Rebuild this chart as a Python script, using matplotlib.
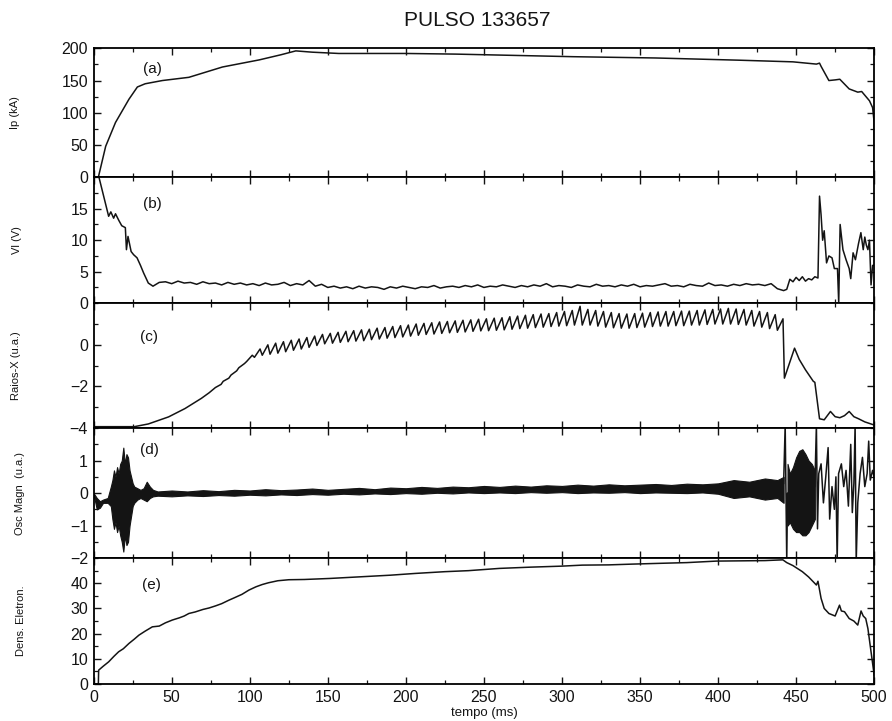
"""
PULSO 133657 - five stacked diagnostics traces vs time.
"""

import numpy as np
import matplotlib as mpl
import matplotlib.pyplot as plt
from matplotlib.ticker import MultipleLocator

# ── data ─────────────────────────────────────────────────────────────────────
# (a) plasma current Ip (kA)
A_T = [0, 3, 7.7, 14, 22.6, 28, 33, 44, 61, 82.5, 106, 120, 129.5, 140, 157,
       200, 232, 307, 360, 413, 448, 463, 465, 466, 471, 475, 478, 484, 489.5,
       492, 497, 499, 500, 500]
A_V = [0, 0, 48, 85, 121, 140, 145, 150, 155, 171, 182, 190, 196, 194, 192,
       192, 191, 187, 185, 181.6, 179, 175.5, 177, 172, 150, 151, 152, 137, 132,
       133, 118.6, 108, 85, 0]

# (b) loop voltage Vl (V)
B_HEAD_T = [2.5, 3, 6.4, 9.6, 11, 12.8, 14, 16, 18, 20.3, 21, 22, 24, 25.6,
            27.8, 30, 32, 35, 38, 42]
B_HEAD_V = [21, 20.4, 17, 13.8, 14.5, 13.5, 14.2, 13.2, 12.3, 12, 8.5, 10.6,
            8.2, 7.7, 7.2, 6.0, 4.8, 3.2, 2.7, 3.3]
B_BASE_T = list(range(46, 443, 4))
B_BASE_V = [3.4, 3.1, 3.5, 3.2, 3.3, 3.0, 3.4, 3.1, 3.2, 2.9, 3.3, 3.0, 3.2, 2.9,
            3.1, 2.8, 3.2, 2.9, 3.0, 3.3, 2.8, 3.1, 2.9, 3.6, 2.7, 3.0, 2.5, 2.7, 2.4,
            2.6, 2.3, 2.7, 2.4, 2.6, 2.5, 2.2, 2.6, 2.4, 2.7, 2.5, 2.3, 2.6, 2.5, 2.8,
            2.4, 2.6, 2.7, 2.5, 2.8,
            2.6, 2.9, 2.5, 2.7, 2.6, 2.9, 2.7, 2.5, 2.8, 2.6, 2.9, 2.7, 3.1, 2.6, 2.8,
            2.7, 2.5, 2.9, 2.7, 2.6, 3.0, 2.7, 2.8, 2.6, 2.9,
            2.7, 3.0, 2.6, 2.8, 2.7, 2.9, 3.1, 2.7, 2.8, 2.6, 3.0, 2.8, 2.7, 3.2, 2.8,
            2.9, 2.7, 3.0, 2.8, 3.1, 2.9, 3.0, 2.8, 3.1, 2.3, 2.0]
B_TAIL_T = [444, 446, 448, 450, 452, 454, 456, 458, 460, 462, 464, 465, 466,
            467, 468, 469.5, 471, 473, 474.5, 476.5, 477.3, 478.2, 480, 482, 484,
            485, 486.5, 488, 490, 491.5, 493, 494, 495, 496, 497, 498, 499, 500]
B_TAIL_V = [2.2, 3.8, 3.4, 4.1, 3.6, 4.2, 3.5, 3.9, 3.7, 4.2, 4.0, 17, 14, 10,
            11.5, 6.4, 7.5, 7.2, 5.5, 5.5, 0, 12.5, 8.5, 6.9, 5.5, 3.9, 8, 6.9,
            9.5, 11.2, 8.5, 10.5, 9.2, 8.5, 10, 2.9, 6, 6]

# (c) soft X-rays (u.a.) : ramp, sawtooth teeth, disruption tail
C_RAMP_T = [0, 26, 35, 48, 58.5, 69, 74]
C_RAMP_V = [-3.93, -3.93, -3.8, -3.46, -3.06, -2.57, -2.3]
C_TOOTH_T = list(range(78, 439, 5))
C_TOOTH_LO = [-2.05, -1.75, -1.45, -1.1, -0.8, -0.6, -0.5, -0.45, -0.4, -0.33,
              -0.26, -0.2, -0.12, -0.03, 0.05, 0.08, 0.12, 0.15, 0.18, 0.2,
              0.25, 0.28, 0.32, 0.35, 0.38, 0.42, 0.46, 0.5, 0.52, 0.55,
              0.58, 0.6, 0.62, 0.65, 0.67, 0.68, 0.7, 0.72, 0.75, 0.78,
              0.8, 0.83, 0.85, 0.88, 0.9, 0.92, 0.95, 0.95, 0.95, 0.9,
              0.85, 0.82, 0.8, 0.8, 0.83, 0.85, 0.88, 0.9, 0.9, 0.92,
              0.92, 0.95, 0.95, 0.98, 1.0, 1.0, 1.0, 0.98, 0.95, 0.9,
              0.85, 0.78, 0.7]
C_TOOTH_HI = [-1.9, -1.6, -1.25, -0.9, -0.5, -0.2, 0.0, 0.08, 0.15, 0.22,
              0.28, 0.35, 0.42, 0.5, 0.55, 0.6, 0.65, 0.68, 0.72, 0.75,
              0.8, 0.83, 0.88, 0.92, 0.95, 1.0, 1.03, 1.06, 1.1, 1.12,
              1.15, 1.18, 1.2, 1.23, 1.25, 1.28, 1.3, 1.35, 1.38, 1.42,
              1.45, 1.48, 1.5, 1.55, 1.6, 1.65, 1.85, 1.7, 1.65, 1.6,
              1.55, 1.5, 1.48, 1.5, 1.52, 1.55, 1.58, 1.6, 1.6, 1.62,
              1.62, 1.65, 1.68, 1.7, 1.72, 1.75, 1.72, 1.7, 1.65, 1.6,
              1.55, 1.45, 1.25]
C_TAIL_T = [442.5, 449, 452, 456, 461, 462, 465, 468, 472, 475, 478, 481, 484,
            487, 490, 494, 498, 500]
C_TAIL_V = [-1.6, -0.16, -0.7, -1.2, -1.75, -1.8, -3.55, -3.6, -3.2, -3.45,
            -3.5, -3.4, -3.2, -3.45, -3.55, -3.7, -3.8, -3.85]

# (d) magnetic oscillations (u.a.) : envelope of the dense band + late trace
D_T = [0, 2, 4, 6, 9, 11, 12, 13, 14, 15, 16, 17, 18, 19, 20, 21, 22, 23, 24,
       25, 26, 28, 30, 32, 34, 36, 38,
       41, 50, 60, 70, 80, 90, 100, 110, 120, 130, 140, 150, 160, 170, 180, 190,
       200, 210, 220, 230, 240, 250, 260, 270, 280, 290, 300, 310, 320, 330,
       340, 350, 360, 370, 380, 390, 400, 410, 420, 430, 438, 442]
D_HI = [0.0, -0.15, -0.25, -0.2, -0.15, 0.2, 0.4, 0.7, 0.5, 0.8, 0.6, 0.9, 1.0,
        1.4, 0.9, 1.2, 1.1, 0.7, 0.5, 0.3, 0.2, 0.15, 0.1, 0.15, 0.35, 0.2, 0.1,
        0.05, 0.08, 0.05, 0.09, 0.06, 0.1, 0.08, 0.12, 0.09, 0.11,
        0.14, 0.1, 0.13, 0.16, 0.12, 0.17, 0.15, 0.19, 0.16, 0.2,
        0.18, 0.22, 0.19, 0.23, 0.2, 0.24, 0.22, 0.26, 0.23, 0.27,
        0.24, 0.26, 0.28, 0.25, 0.29, 0.27, 0.3, 0.4, 0.35, 0.45, 0.4, 0.5]
D_LO = [-0.05, -0.5, -0.45, -0.3, -0.3, -0.4, -0.8, -1.1, -0.9, -1.2, -1.0,
        -1.3, -1.5, -1.8, -1.3, -1.6, -1.5, -1.0, -0.7, -0.4, -0.3, -0.2, -0.15,
        -0.2, -0.25, -0.15, -0.1,
        -0.08, -0.1, -0.07, -0.09, -0.06, -0.08, -0.05, -0.07, -0.04, -0.06,
        -0.03, -0.05, -0.02, -0.04, -0.01, -0.03, 0.0, -0.02, 0.01, -0.01,
        0.02, 0.0, 0.02, 0.0, 0.03, 0.01, 0.03, 0.0, 0.02, 0.01,
        0.03, 0.0, 0.02, 0.01, 0.0, 0.02, -0.02, -0.15, -0.1, -0.2, -0.15, -0.3]
D_BURST_T = [444.5, 446, 448, 450, 452, 454, 456, 458, 460, 462]
D_BURST_HI = [0.9, 0.6, 0.8, 1.1, 1.3, 1.35, 1.2, 1.0, 0.9, 0.7]
D_BURST_LO = [-1.0, -0.9, -1.1, -1.2, -1.2, -1.3, -1.3, -1.2, -1.0, -0.8]
D_LATE_T = [442, 443, 444, 444.5, 462, 463, 463.7, 464.5, 466, 467.5, 469,
            470.5, 471.5, 473, 474.5, 475.5, 476.3, 477.2, 479, 480.5, 482,
            483.5, 485, 486, 487, 487.8, 488.5, 489.5, 491, 492.5, 494, 495.5,
            496.5, 497.5, 499, 500]
D_LATE_V = [0.3, 2.1, -2.1, 0.0, 0.2, 2.1, -1.1, 0.6, 0.9, -0.3, 0.5, 1.4,
            -0.8, 0.2, -0.5, 0.5, -2.1, 0.6, 0.9, 0.2, 0.7, -0.4, 1.5, -0.6,
            0.3, 2.1, -2.1, -0.3, 0.6, 1.1, 0.2, 0.6, 1.6, 0.4, 0.7, 0.5]

# (e) electron density
E_T = [0, 3, 3.2, 6, 9.6, 13, 16, 19, 22.6, 26, 29, 33, 37.6, 42, 46, 50.4, 55,
       58, 61, 65, 70, 74, 78, 82, 86.7, 90, 95, 99.5, 104, 108, 112, 118, 125,
       135, 151, 160, 172, 190, 206, 225, 240, 260, 280, 300, 313, 330, 345, 362,
       380, 399, 415, 430, 441.5, 444, 448, 454, 458, 463, 464, 466, 468, 471,
       475, 477.8, 479, 481, 484, 487, 489.5, 491.6, 493, 494.6, 496, 498, 500]
E_V = [0, 0, 5.5, 7.0, 8.8, 11.0, 12.8, 14.0, 16.1, 17.8, 19.4, 21.0, 22.7,
       23.0, 24.3, 25.4, 26.3, 27.0, 28.0, 28.6, 29.6, 30.2, 31.0, 31.9, 33.3,
       34.2, 35.6, 37.3, 38.6, 39.5, 40.2, 41.0, 41.4, 41.5, 41.9, 42.2, 42.6,
       43.2, 43.9, 44.6, 45.0, 45.9, 46.4, 46.8, 47.2, 47.3, 47.6, 47.9, 48.2,
       48.8, 48.9, 49.0, 49.3, 48.2, 47.0, 44.6, 42.5, 39.3, 40.8, 34.0, 30.0,
       28.0, 27.0, 31.3, 29.0, 28.7, 26.0, 25.0, 23.4, 29.0, 27.0, 26.0, 22.0,
       12.8, 3.6]

# ── style ────────────────────────────────────────────────────────────────────
mpl.rcParams.update({
    "font.family": ["Liberation Sans", "DejaVu Sans"],
    "font.size": 11,
    "xtick.direction": "in",
    "ytick.direction": "in",
    "xtick.top": True,
    "ytick.right": True,
    "axes.linewidth": 1.3,
})
INK = "#141414"
LW = 1.1

fig = plt.figure(figsize=(8.92, 7.21), dpi=100)
gs = fig.add_gridspec(5, 1, left=0.105, right=0.98, top=0.933, bottom=0.0513,
                      hspace=0, height_ratios=[129, 126, 125, 130, 126])
axes = [fig.add_subplot(gs[i]) for i in range(5)]
ax_a, ax_b, ax_c, ax_d, ax_e = axes

# (a)
ax_a.plot(A_T, A_V, color=INK, lw=LW)
# (b)
ax_b.plot(B_HEAD_T + B_BASE_T + B_TAIL_T, B_HEAD_V + B_BASE_V + B_TAIL_V,
          color=INK, lw=LW)
# (c) build the sawtooth path from the tooth table
c_t = list(C_RAMP_T)
c_v = list(C_RAMP_V)
for t0, lo, hi in zip(C_TOOTH_T, C_TOOTH_LO, C_TOOTH_HI):
    c_t += [t0, t0 + 3.6]
    c_v += [lo, hi]
ax_c.plot(c_t + C_TAIL_T, c_v + C_TAIL_V, color=INK, lw=LW)
# (d)
ax_d.fill_between(D_T, D_LO, D_HI, color=INK, lw=0.8, edgecolor=INK)
ax_d.fill_between(D_BURST_T, D_BURST_LO, D_BURST_HI, color=INK, lw=0.8,
                  edgecolor=INK)
ax_d.plot(D_LATE_T, D_LATE_V, color=INK, lw=LW)
# (e)
ax_e.plot(E_T, E_V, color=INK, lw=LW)

# ── axes ─────────────────────────────────────────────────────────────────────
limits = [(0, 200), (0, 20), (-4, 2), (-2, 2), (0, 50)]
minors = [25, 2.5, 1, 0.5, 5]
tick_lists = [[0, 50, 100, 150, 200], [0, 5, 10, 15], [-4, -2, 0],
              [-2, -1, 0, 1], [0, 10, 20, 30, 40]]
ylabels = ["Ip (kA)", "Vl (V)", "Raios-X (u.a.)", "Osc Magn  (u.a.)",
           "Dens. Eletron."]
tags = ["(a)", "(b)", "(c)", "(d)", "(e)"]
tag_pos = [(0.063, 0.84), (0.063, 0.79), (0.06, 0.73), (0.06, 0.83),
           (0.062, 0.79)]
label_x = [-0.095, -0.092, -0.093, -0.088, -0.087]

for i, ax in enumerate(axes):
    ax.set_xlim(0, 500)
    ax.set_ylim(*limits[i])
    ax.xaxis.set_major_locator(MultipleLocator(50))
    ax.xaxis.set_minor_locator(MultipleLocator(25))
    ax.yaxis.set_minor_locator(MultipleLocator(minors[i]))
    ax.set_yticks(tick_lists[i])
    ax.tick_params(which="major", length=5, width=1.0, labelsize=11.5, pad=4,
                   colors=INK)
    ax.tick_params(which="minor", length=3, width=0.9, colors=INK)
    ax.set_ylabel(ylabels[i], fontsize=8, color=INK)
    ax.yaxis.set_label_coords(label_x[i], 0.5)
    ax.text(tag_pos[i][0], tag_pos[i][1], tags[i], transform=ax.transAxes,
            fontsize=11, ha="left", va="center", color=INK)
    if i < 4:
        ax.tick_params(labelbottom=False)

ax_e.set_xticks([0, 50, 100, 150, 200, 250, 300, 350, 400, 450, 500])
ax_e.set_xlabel("tempo (ms)", fontsize=9.5, labelpad=2, color=INK)

fig.text(0.535, 0.972, "PULSO 133657", ha="center", va="center", fontsize=15,
         color=INK)

fig.savefig("out.png", dpi=100, facecolor="white")
